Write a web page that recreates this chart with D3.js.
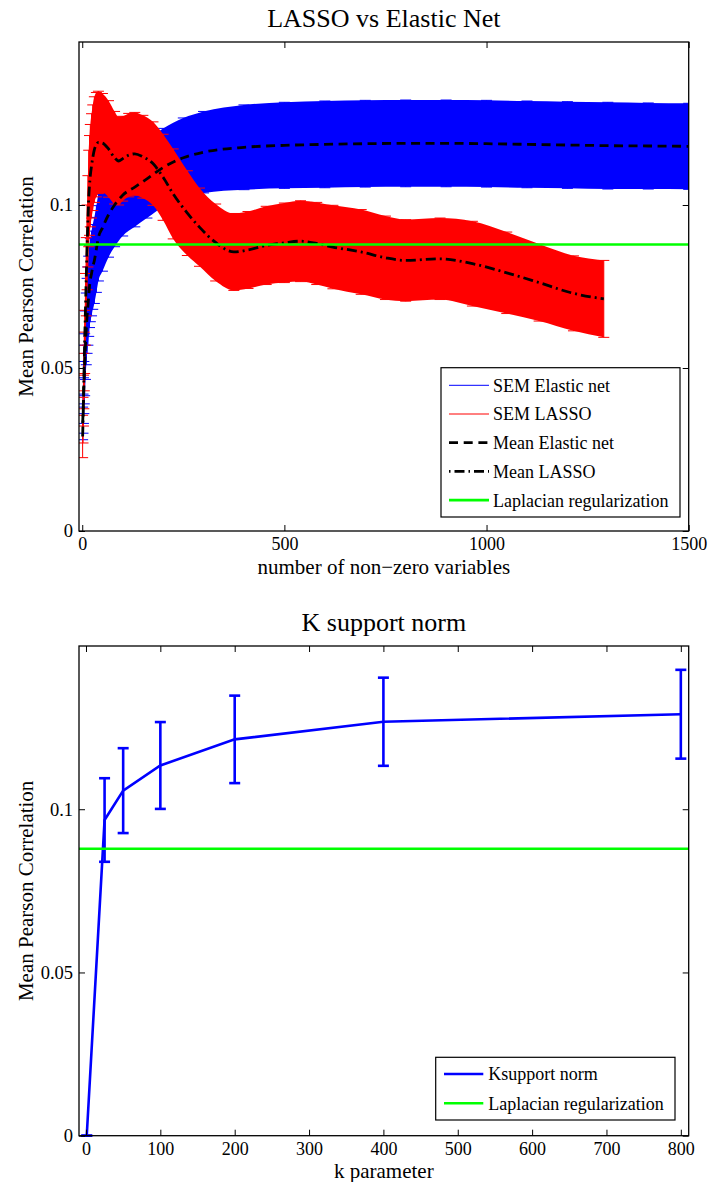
<!DOCTYPE html>
<html><head><meta charset="utf-8">
<script src="https://cdn.jsdelivr.net/npm/d3@7"></script>
<style>
body{margin:0;background:#fff}
svg{display:block}
</style>
</head><body>
<svg id="chart" width="709" height="1182"></svg>
<script>
// ---------- DATA ----------
// Panel 1: LASSO vs Elastic Net
const enX    = [1,2,3,4,5,6,8,10,12,14,16,18,20,23,26,30,35,40,50,65,80,100,130,160,200,250,300,400,500,600,700,800,900,1000,1100,1200,1300,1400,1500];
const enMean = [0.033,0.036,0.040,0.044,0.048,0.051,0.057,0.062,0.066,0.069,0.072,0.075,0.077,0.079,0.081,0.083,0.0865,0.090,0.093,0.097,0.100,0.103,0.1055,0.108,0.1115,0.1145,0.1162,0.1177,0.1183,0.1186,0.1188,0.1189,0.1189,0.1188,0.1186,0.1184,0.1182,0.1181,0.118];
const enSem  = [0.005,0.006,0.007,0.008,0.009,0.0095,0.0105,0.011,0.0115,0.012,0.0123,0.0126,0.0128,0.013,0.013,0.0132,0.0133,0.0133,0.0133,0.013,0.0128,0.0125,0.0122,0.012,0.012,0.0122,0.0125,0.013,0.0132,0.0133,0.0133,0.0133,0.0133,0.0133,0.0133,0.0133,0.0133,0.0132,0.0132];

const laX    = [1,2,3,4,5,6,8,10,12,14,16,18,20,23,26,30,35,40,50,65,80,90,100,115,130,150,175,200,225,260,290,330,375,410,455,500,540,580,620,690,750,800,885,965,1050,1130,1215,1290];
const laMean = [0.029,0.034,0.040,0.046,0.052,0.058,0.068,0.078,0.087,0.095,0.102,0.106,0.109,0.112,0.1145,0.117,0.1185,0.1192,0.119,0.1172,0.1145,0.1135,0.1142,0.1153,0.1157,0.1148,0.1127,0.1085,0.1034,0.0975,0.0932,0.0885,0.0856,0.0862,0.0876,0.0884,0.0889,0.0882,0.0871,0.0856,0.0838,0.083,0.0835,0.082,0.0792,0.0762,0.0729,0.0712];
const laSem  = [0.0065,0.007,0.0078,0.0085,0.009,0.0097,0.011,0.012,0.013,0.014,0.0148,0.0153,0.0157,0.016,0.0162,0.0162,0.016,0.0157,0.0152,0.0148,0.0142,0.0135,0.013,0.0128,0.0127,0.0127,0.0128,0.0132,0.0138,0.013,0.012,0.0118,0.0118,0.0118,0.012,0.0122,0.0124,0.0126,0.0128,0.013,0.0128,0.0125,0.0125,0.013,0.0125,0.0118,0.0115,0.0118];

const laplacianValue = 0.0879;

const xTicks1 = [0,500,1000,1500];
const yTicks  = [0,0.05,0.1];
const legend1 = ["SEM Elastic net","SEM LASSO","Mean Elastic net","Mean LASSO","Laplacian regularization"];

// Panel 2: K support norm
const ksX    = [1,25,50,100,200,400,800];
const ksMean = [0,0.0967,0.1057,0.1134,0.1214,0.1268,0.1291];
const ksSem  = [0,0.0128,0.0130,0.0133,0.0134,0.0135,0.0136];
const xTicks2 = [0,100,200,300,400,500,600,700,800];
const legend2 = ["Ksupport norm","Laplacian regularization"];

// ---------- DRAW ----------
const FONT = "'Liberation Serif', 'Times New Roman', Times, serif";
const svg = d3.select('#chart');
const BLUE = '#0000ff', RED = '#ff0000', GREEN = '#00ff00';
const yFmt = d => d === 0 ? '0' : String(d);

function txt(sel, size) {
  return sel.attr('font-family', FONT).style('font-family', FONT).attr('font-size', size).attr('fill','#000');
}

function frame(P, x, y, xt, title, xlabel) {
  const g = svg.append('g');
  g.append('g').attr('transform',`translate(0,${P.bottom})`)
    .call(d3.axisBottom(x).tickValues(xt).tickSizeInner(-6).tickSizeOuter(0).tickPadding(6.5).tickFormat(d3.format('d')))
    .call(a=>{a.select('.domain').remove(); a.attr('font-family',null).attr('font-size',null); txt(a.selectAll('text'),18);});
  g.append('g').attr('transform',`translate(0,${P.top})`)
    .call(d3.axisTop(x).tickValues(xt).tickSizeInner(-6).tickSizeOuter(0).tickFormat(''))
    .call(a=>a.select('.domain').remove());
  g.append('g').attr('transform',`translate(${P.left},0)`)
    .call(d3.axisLeft(y).tickValues(yTicks).tickSizeInner(-6).tickSizeOuter(0).tickPadding(6).tickFormat(yFmt))
    .call(a=>{a.select('.domain').remove(); a.attr('font-family',null).attr('font-size',null); txt(a.selectAll('text'),18.5);});
  g.append('g').attr('transform',`translate(${P.right},0)`)
    .call(d3.axisRight(y).tickValues(yTicks).tickSizeInner(-6).tickSizeOuter(0).tickFormat(''))
    .call(a=>a.select('.domain').remove());
  g.selectAll('.tick line').attr('stroke','#000');
  g.append('rect').attr('x',P.left).attr('y',P.top).attr('width',P.right-P.left).attr('height',P.bottom-P.top)
    .attr('fill','none').attr('stroke','#000').attr('stroke-width',1.3);
  const cx = (P.left+P.right)/2;
  txt(svg.append('text'),26).attr('x',cx).attr('y',P.top-15).attr('text-anchor','middle').text(title);
  txt(svg.append('text'),21).attr('x',cx).attr('y',P.bottom+42.5).attr('text-anchor','middle').text(xlabel);
  txt(svg.append('text'),21).attr('transform',`translate(32.5,${(P.top+P.bottom)/2}) rotate(-90)`)
    .attr('text-anchor','middle').text('Mean Pearson Correlation');
}

function legend(box, items) {
  const g = svg.append('g');
  g.append('rect').attr('x',box.x).attr('y',box.y).attr('width',box.w).attr('height',box.h)
    .attr('fill','#fff').attr('stroke','#000').attr('stroke-width',1.2);
  items.forEach((it,i)=>{
    const yy = box.first + i*box.step;
    g.append('line').attr('x1',box.lx1).attr('x2',box.lx2).attr('y1',yy).attr('y2',yy)
      .attr('stroke',it.color).attr('stroke-width',it.w).attr('stroke-dasharray',it.dash||null);
    txt(g.append('text'),18).attr('x',box.tx).attr('y',yy+6.4).text(it.label);
  });
}

// ---- Panel 1 ----
const P1 = {left:79,right:688.7,top:42,bottom:531};
const x1 = d3.scaleLinear().domain([-8,1500]).range([P1.left,P1.right]);
const y1 = d3.scaleLinear().domain([0,0.15]).range([P1.bottom,P1.top]);

svg.append('defs').append('clipPath').attr('id','clip1').append('rect')
  .attr('x',P1.left).attr('y',P1.top).attr('width',P1.right-P1.left).attr('height',P1.bottom-P1.top);
const plot1 = svg.append('g').attr('clip-path','url(#clip1)');

function semBand(xs, means, sems, color) {
  const data = xs.map((x,i)=>({x, m:means[i], s:sems[i]}));
  const area = d3.area().x(d=>x1(d.x)).y0(d=>y1(d.m-d.s)).y1(d=>y1(d.m+d.s)).curve(d3.curveMonotoneX);
  plot1.append('path').datum(data).attr('d',area).attr('fill',color);
  const eb = plot1.append('g').attr('stroke',color).attr('stroke-width',1);
  eb.selectAll('line.v').data(data).join('line').attr('class','v')
    .attr('x1',d=>x1(d.x)).attr('x2',d=>x1(d.x)).attr('y1',d=>y1(d.m-d.s)).attr('y2',d=>y1(d.m+d.s));
  eb.selectAll('line.lo').data(data).join('line').attr('class','lo')
    .attr('x1',d=>x1(d.x)-5.5).attr('x2',d=>x1(d.x)+5.5).attr('y1',d=>y1(d.m-d.s)).attr('y2',d=>y1(d.m-d.s));
  eb.selectAll('line.hi').data(data).join('line').attr('class','hi')
    .attr('x1',d=>x1(d.x)-5.5).attr('x2',d=>x1(d.x)+5.5).attr('y1',d=>y1(d.m+d.s)).attr('y2',d=>y1(d.m+d.s));
}
semBand(enX, enMean, enSem, BLUE);
semBand(laX, laMean, laSem, RED);

const meanLine = d3.line().x(d=>x1(d[0])).y(d=>y1(d[1])).curve(d3.curveMonotoneX);
plot1.append('path').datum(enX.map((x,i)=>[x,enMean[i]])).attr('d',meanLine)
  .attr('fill','none').attr('stroke','#000').attr('stroke-width',2.8).attr('stroke-dasharray','9,5.5');
plot1.append('path').datum(laX.map((x,i)=>[x,laMean[i]])).attr('d',meanLine)
  .attr('fill','none').attr('stroke','#000').attr('stroke-width',2.8).attr('stroke-dasharray','10,4,2,4');
plot1.append('line').attr('x1',x1(x1.domain()[0])).attr('x2',x1(x1.domain()[1]))
  .attr('y1',y1(laplacianValue)).attr('y2',y1(laplacianValue)).attr('stroke',GREEN).attr('stroke-width',2.6);

frame(P1, x1, y1, xTicks1, 'LASSO vs Elastic Net', 'number of non\u2212zero variables');
legend({x:441,y:367.7,w:239,h:149.3,first:385.3,step:28.7,lx1:449,lx2:489,tx:493}, [
  {label:legend1[0],color:BLUE,w:1},
  {label:legend1[1],color:RED,w:1},
  {label:legend1[2],color:'#000',w:2.8,dash:'9,5.7'},
  {label:legend1[3],color:'#000',w:2.8,dash:'1.5,4,10,4'},
  {label:legend1[4],color:GREEN,w:2.6}
]);

// ---- Panel 2 ----
const P2 = {left:79,right:688.7,top:646,bottom:1135.7};
const x2 = d3.scaleLinear().domain([-9.4,810.6]).range([P2.left,P2.right]);
const y2 = d3.scaleLinear().domain([0,0.15]).range([P2.bottom,P2.top]);
const plot2 = svg.append('g');
const ks = ksX.map((x,i)=>({x, m:ksMean[i], s:ksSem[i]}));
plot2.append('path').datum(ks).attr('d',d3.line().x(d=>x2(d.x)).y(d=>y2(d.m)))
  .attr('fill','none').attr('stroke',BLUE).attr('stroke-width',2.6);
const eb2 = plot2.append('g').attr('stroke',BLUE).attr('stroke-width',2.6);
eb2.selectAll('line.v').data(ks).join('line').attr('class','v')
  .attr('x1',d=>x2(d.x)).attr('x2',d=>x2(d.x)).attr('y1',d=>y2(d.m-d.s)).attr('y2',d=>y2(d.m+d.s));
eb2.selectAll('line.lo').data(ks).join('line').attr('class','lo')
  .attr('x1',d=>x2(d.x)-5.5).attr('x2',d=>x2(d.x)+5.5).attr('y1',d=>y2(d.m-d.s)).attr('y2',d=>y2(d.m-d.s));
eb2.selectAll('line.hi').data(ks).join('line').attr('class','hi')
  .attr('x1',d=>x2(d.x)-5.5).attr('x2',d=>x2(d.x)+5.5).attr('y1',d=>y2(d.m+d.s)).attr('y2',d=>y2(d.m+d.s));
plot2.append('line').attr('x1',x2(x2.domain()[0])).attr('x2',x2(x2.domain()[1]))
  .attr('y1',y2(laplacianValue)).attr('y2',y2(laplacianValue)).attr('stroke',GREEN).attr('stroke-width',2.6);

frame(P2, x2, y2, xTicks2, 'K support norm', 'k parameter');
legend({x:435.7,y:1057.3,w:239.3,h:62.7,first:1074,step:29.3,lx1:444,lx2:483.3,tx:488.3}, [
  {label:legend2[0],color:BLUE,w:2.6},
  {label:legend2[1],color:GREEN,w:2.6}
]);
</script>
</body></html>
